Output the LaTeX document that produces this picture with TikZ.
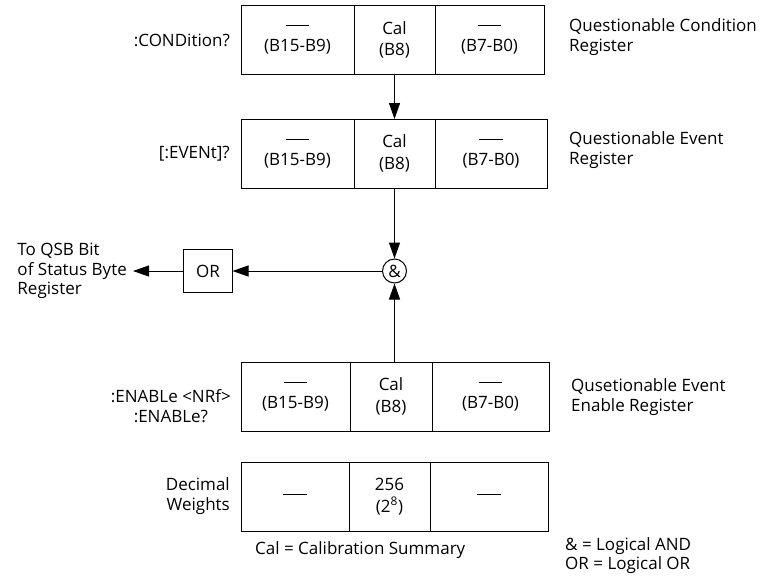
\documentclass[tikz,border=0pt]{standalone}
\usepackage{fontspec}
\setmainfont{Open Sans}
\usetikzlibrary{positioning, arrows.meta}
\tikzset{
	regcell/.style={draw, line width=1pt, outer sep=0pt, inner sep=0pt, minimum height=69pt,
		align=center, font=\fontsize{17}{21.5}\selectfont}
}
\tikzset{
	sidetext/.style={inner sep=0pt, font=\fontsize{17}{19.5}\selectfont}
}
\tikzset{
	flow/.style={line width=1pt, -{Triangle[length=16pt, width=11pt]}}
}
\newcommand{\nobits}{\rule[0.45ex]{1.4em}{0.8pt}}

\begin{document}
\begin{tikzpicture}[x=1pt, y=-1pt]
      \useasboundingbox (0,0) rectangle (765,587);

      % condition register
      \node[regcell, minimum width=113pt, anchor=west] (condhi) at (241,40) {\nobits\\(B15-B9)};
      \node[regcell, minimum width=81pt, right=0pt of condhi] (condcal) {Cal\\(B8)};
      \node[regcell, minimum width=109pt, right=0pt of condcal] (condlo) {\nobits\\(B7-B0)};

      % event register
      \node[regcell, minimum width=113pt, anchor=west] (evhi) at (241,153.5) {\nobits\\(B15-B9)};
      \node[regcell, minimum width=81pt, right=0pt of evhi] (evcal) {Cal\\(B8)};
      \node[regcell, minimum width=112pt, right=0pt of evcal] (evlo) {\nobits\\(B7-B0)};

      % enable register
      \node[regcell, minimum width=109pt, anchor=west] (enhi) at (241,396.5) {\nobits\\(B15-B9)};
      \node[regcell, minimum width=82pt, right=0pt of enhi] (encal) {Cal\\(B8)};
      \node[regcell, minimum width=117pt, right=0pt of encal] (enlo) {\nobits\\(B7-B0)};

      % decimal weights
      \node[regcell, minimum width=108pt, anchor=west] (wthi) at (241,496.5) {\nobits};
      \node[regcell, minimum width=81pt, right=0pt of wthi] (wtcal) {256\\(2\textsuperscript{8})};
      \node[regcell, minimum width=118pt, right=0pt of wtcal] (wtlo) {\nobits};

      \node[sidetext, anchor=east] (condq) at (230,40) {:CONDition?};
      \node[sidetext, anchor=east] (evq) at (230,153.5) {[:EVENt]?};
      \node[sidetext, anchor=east, align=center] (enq) at (231,406) {:ENABLe <NRf>\\:ENABLe?};
      \node[sidetext, anchor=east, align=right] (wtq) at (230,496) {Decimal\\Weights};

      \node[sidetext, anchor=west, align=left] (condname) at (569,37) {Questionable Condition\\Register};
      \node[sidetext, anchor=west, align=left] (evname) at (569,150) {Questionable Event\\Register};
      \node[sidetext, anchor=west, align=left] (enname) at (571,397) {Qusetionable Event\\Enable Register};

      % summary logic
      \node[circle, draw, line width=1pt, inner sep=0pt, minimum size=24pt,
        font=\fontsize{17}{19}\selectfont] (and) at (evcal |- 0,271) {\&};
      \node[draw, line width=1pt, outer sep=0pt, minimum width=49pt, minimum height=43pt,
        font=\fontsize{17}{19}\selectfont] (orgate) at (208,271) {OR};
      \node[sidetext, anchor=east, align=left, inner xsep=6pt] (qsb) at (133,271) {To QSB Bit\\of Status Byte\\Register};

      \draw[flow] (condcal.south) -- (evcal.north);
      \draw[flow] (evcal.south) -- (and.north);
      \draw[flow] (and |- encal.north) -- (and.south);
      \draw[flow] (and.west) -- (orgate.east);
      \draw[flow] (orgate.west) -- (qsb.east);

      % legend
      \node[sidetext, anchor=west] (callegend) at (255,550) {Cal = Calibration Summary};
      \node[sidetext, anchor=north west, align=left] (oplegend) at (565,537) {\& = Logical AND\\OR = Logical OR};
    \end{tikzpicture}
\end{document}
